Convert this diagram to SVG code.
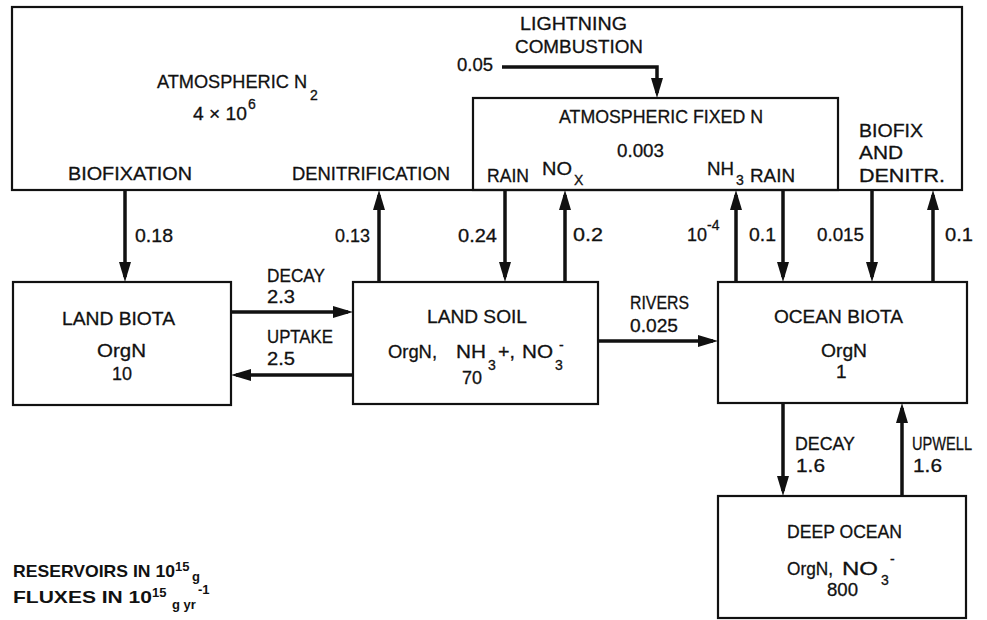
<svg xmlns="http://www.w3.org/2000/svg" width="987" height="620" viewBox="0 0 987 620">
<defs>
<marker id="ah" markerUnits="userSpaceOnUse" markerWidth="20" markerHeight="14" viewBox="0 0 20 14" refX="15" refY="7" orient="auto"><path d="M0,1 L20,7 L0,13 z" fill="#111"/></marker>
</defs>
<style>
text{font-family:"Liberation Sans",Arial,sans-serif;font-size:19px;fill:#111;stroke:#111;stroke-width:0.3}
.box{fill:none;stroke:#111;stroke-width:2.2}
.arr{fill:none;stroke:#111;stroke-width:3.5;marker-end:url(#ah)}
.s{font-size:14px}
.lg{font-weight:bold;stroke-width:0;font-size:17px}
.lg.s{font-size:13px}
</style>
<rect width="987" height="620" fill="#fff"/>

<g id="atmospheric-n2">
<rect class="box" x="12" y="7" width="950" height="183"/>
<text x="157" y="88" textLength="150" lengthAdjust="spacingAndGlyphs">ATMOSPHERIC N</text>
<text class="s" x="310" y="100">2</text>
<text x="193" y="120" textLength="54" lengthAdjust="spacingAndGlyphs">4 × 10</text>
<text class="s" x="248" y="109">6</text>
<text x="68" y="180" textLength="124" lengthAdjust="spacingAndGlyphs">BIOFIXATION</text>
<text x="292" y="180" textLength="158" lengthAdjust="spacingAndGlyphs">DENITRIFICATION</text>
<text x="520" y="30" textLength="107" lengthAdjust="spacingAndGlyphs">LIGHTNING</text>
<text x="515" y="53" textLength="128" lengthAdjust="spacingAndGlyphs">COMBUSTION</text>
<text x="859" y="137" textLength="64" lengthAdjust="spacingAndGlyphs">BIOFIX</text>
<text x="859" y="159" textLength="44" lengthAdjust="spacingAndGlyphs">AND</text>
<text x="859" y="182" textLength="86" lengthAdjust="spacingAndGlyphs">DENITR.</text>
</g>

<g id="atmospheric-fixed-n">
<rect class="box" x="473" y="98" width="365" height="92"/>
<text x="559" y="123" textLength="204" lengthAdjust="spacingAndGlyphs">ATMOSPHERIC FIXED N</text>
<text x="617" y="157" textLength="47" lengthAdjust="spacingAndGlyphs">0.003</text>
<text x="487" y="182" textLength="42" lengthAdjust="spacingAndGlyphs">RAIN</text>
<text x="542" y="175" textLength="30" lengthAdjust="spacingAndGlyphs">NO</text>
<text class="s" x="574" y="185">X</text>
<text x="707" y="175" textLength="27" lengthAdjust="spacingAndGlyphs">NH</text>
<text class="s" x="736" y="185">3</text>
<text x="750" y="182" textLength="45" lengthAdjust="spacingAndGlyphs">RAIN</text>
</g>

<g id="land-biota">
<rect class="box" x="13" y="282" width="218" height="123"/>
<text x="62" y="325" textLength="113" lengthAdjust="spacingAndGlyphs">LAND BIOTA</text>
<text x="97" y="357" textLength="49" lengthAdjust="spacingAndGlyphs">OrgN</text>
<text x="112" y="380" textLength="20" lengthAdjust="spacingAndGlyphs">10</text>
</g>

<g id="land-soil">
<rect class="box" x="353" y="282" width="245" height="122"/>
<text x="427" y="323" textLength="100" lengthAdjust="spacingAndGlyphs">LAND SOIL</text>
<text x="388" y="358" textLength="49" lengthAdjust="spacingAndGlyphs">OrgN,</text>
<text x="456" y="358" textLength="30" lengthAdjust="spacingAndGlyphs">NH</text>
<text class="s" x="488" y="370">3</text>
<text x="498" y="358" textLength="17" lengthAdjust="spacingAndGlyphs">+,</text>
<text x="522" y="358" textLength="31" lengthAdjust="spacingAndGlyphs">NO</text>
<text class="s" x="555" y="370">3</text>
<text class="s" x="559" y="350">-</text>
<text x="462" y="384" textLength="20" lengthAdjust="spacingAndGlyphs">70</text>
</g>

<g id="ocean-biota">
<rect class="box" x="718" y="282" width="249" height="121"/>
<text x="774" y="323" textLength="129" lengthAdjust="spacingAndGlyphs">OCEAN BIOTA</text>
<text x="821" y="357" textLength="46" lengthAdjust="spacingAndGlyphs">OrgN</text>
<text x="836" y="378">1</text>
</g>

<g id="deep-ocean">
<rect class="box" x="718" y="496" width="248" height="122"/>
<text x="787" y="538" textLength="115" lengthAdjust="spacingAndGlyphs">DEEP OCEAN</text>
<text x="787" y="575" textLength="46" lengthAdjust="spacingAndGlyphs">OrgN,</text>
<text x="842" y="575" textLength="36" lengthAdjust="spacingAndGlyphs">NO</text>
<text class="s" x="881" y="585">3</text>
<text class="s" x="890" y="564">-</text>
<text x="827" y="596" textLength="31" lengthAdjust="spacingAndGlyphs">800</text>
</g>

<g id="connectors">
<path class="arr" d="M502,67 H657 V93"/>
<path class="arr" d="M125,190 V277"/>
<path class="arr" d="M379,282 V195"/>
<path class="arr" d="M505,190 V277"/>
<path class="arr" d="M565,282 V195"/>
<path class="arr" d="M736,282 V195"/>
<path class="arr" d="M783,190 V277"/>
<path class="arr" d="M872,190 V277"/>
<path class="arr" d="M933,282 V195"/>
<path class="arr" d="M231,312 H348"/>
<path class="arr" d="M353,375 H236"/>
<path class="arr" d="M598,341 H713"/>
<path class="arr" d="M783,403 V491"/>
<path class="arr" d="M902,496 V408"/>
<text x="457" y="71" textLength="36" lengthAdjust="spacingAndGlyphs">0.05</text>
<text x="135" y="242" textLength="38" lengthAdjust="spacingAndGlyphs">0.18</text>
<text x="335" y="242" textLength="35" lengthAdjust="spacingAndGlyphs">0.13</text>
<text x="458" y="242" textLength="39" lengthAdjust="spacingAndGlyphs">0.24</text>
<text x="573" y="241" textLength="30" lengthAdjust="spacingAndGlyphs">0.2</text>
<text x="687" y="241" textLength="20" lengthAdjust="spacingAndGlyphs">10</text>
<text class="s" x="707" y="230">-4</text>
<text x="749" y="241" textLength="27" lengthAdjust="spacingAndGlyphs">0.1</text>
<text x="817" y="241" textLength="47" lengthAdjust="spacingAndGlyphs">0.015</text>
<text x="945" y="241" textLength="28" lengthAdjust="spacingAndGlyphs">0.1</text>
<text x="267" y="282" textLength="58" lengthAdjust="spacingAndGlyphs">DECAY</text>
<text x="267" y="303" textLength="28" lengthAdjust="spacingAndGlyphs">2.3</text>
<text x="267" y="343" textLength="66" lengthAdjust="spacingAndGlyphs">UPTAKE</text>
<text x="267" y="365" textLength="28" lengthAdjust="spacingAndGlyphs">2.5</text>
<text x="630" y="309" textLength="59" lengthAdjust="spacingAndGlyphs">RIVERS</text>
<text x="630" y="332" textLength="48" lengthAdjust="spacingAndGlyphs">0.025</text>
<text x="795" y="450" textLength="60" lengthAdjust="spacingAndGlyphs">DECAY</text>
<text x="796" y="472" textLength="29" lengthAdjust="spacingAndGlyphs">1.6</text>
<text x="912" y="450" textLength="60" lengthAdjust="spacingAndGlyphs">UPWELL</text>
<text x="913" y="472" textLength="29" lengthAdjust="spacingAndGlyphs">1.6</text>
</g>

<g id="legend">
<text class="lg" x="13" y="577" textLength="162" lengthAdjust="spacingAndGlyphs">RESERVOIRS IN 10</text>
<text class="lg s" x="175" y="571">15</text>
<text class="lg s" x="192" y="581">g</text>
<text class="lg" x="13" y="603" textLength="139" lengthAdjust="spacingAndGlyphs">FLUXES IN 10</text>
<text class="lg s" x="152" y="597">15</text>
<text class="lg s" x="172" y="609">g yr</text>
<text class="lg s" x="198" y="594">-1</text>
</g>
</svg>
